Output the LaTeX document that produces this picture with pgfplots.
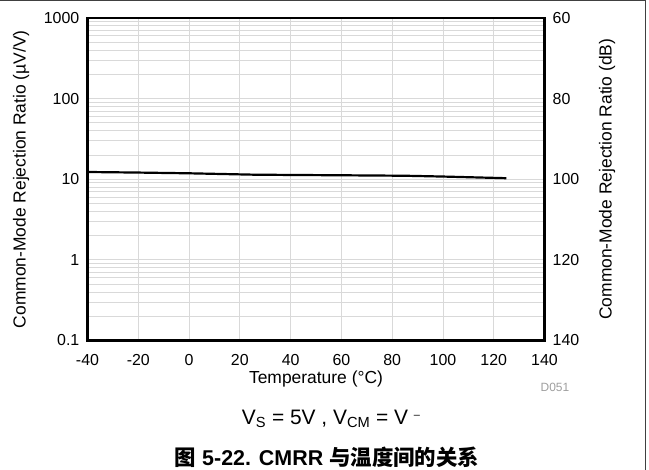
\documentclass[border=0pt]{standalone}
\usepackage{pgfplots}
\pgfplotsset{compat=1.18}
\usepackage{fontspec}
\setmainfont{Liberation Sans}
\newfontfamily\cjk{Noto Sans CJK SC}
\definecolor{gridgray}{RGB}{217,217,217}
\pgfplotstableread{
T    cmrr
-40  12.3
-20  12.1
0    11.85
25   11.4
40   11.3
60   11.2
85   11.05
100  10.8
125  10.3
}\cmrrdata
\begin{document}
\begin{tikzpicture}[x=1bp,y=1bp]
\useasboundingbox (0,0) rectangle (649,470);
\draw[line width=1.2bp, black!75] (0,469.4) -- (645.8,469.4) -- (645.8,0);
\begin{axis}[
  at={(87.5bp,129.5bp)}, anchor=south west,
  scale only axis, width=457bp, height=322.5bp,
  xmin=-40, xmax=140, ymode=log, ymin=0.1, ymax=1000,
  xtick={-40,-20,0,20,40,60,80,100,120,140},
  xticklabels={-40,-20,0,20,40,60,80,100,120,140},
  ytick={0.1,1,10,100,1000},
  yticklabels={0.1,1,10,100,1000},
  minor ytick={0.2,0.3,0.4,0.5,0.6,0.7,0.8,0.9,2,3,4,5,6,7,8,9,20,30,40,50,60,70,80,90,200,300,400,500,600,700,800,900},
  xtick pos=bottom, ytick pos=left,
  xmajorgrids, ymajorgrids, yminorgrids,
  major grid style={gridgray, line width=0.9bp},
  minor grid style={gridgray, line width=0.9bp},
  major tick length=0pt, minor tick length=0pt,
  tick style={draw=none},
  axis line style={line width=2.5bp},
  tick label style={font=\fontsize{16}{16}\selectfont, inner sep=0pt},
  xticklabel style={anchor=center, yshift=-19.5bp},
  yticklabel style={anchor=east, xshift=-8bp},
  label style={font=\fontsize{17.5}{17.5}\selectfont},
  xlabel={Temperature (°C)},
  xlabel style={at={(axis description cs:0.5,-0.1194)}, anchor=center},
  ylabel={Common-Mode Rejection Ratio (µV/V)},
  ylabel style={at={(axis description cs:-0.1455,0.5)}, anchor=center},
]
\addplot[black, line width=2.2bp] table[x=T, y=cmrr] {\cmrrdata};
\end{axis}
\begin{axis}[
  at={(87.5bp,129.5bp)}, anchor=south west,
  scale only axis, width=457bp, height=322.5bp,
  xmin=-40, xmax=140, ymode=log, ymin=0.1, ymax=1000,
  hide x axis,
  axis y line*=right,
  ytick={0.1,1,10,100,1000},
  yticklabels={140,120,100,80,60},
  minor ytick={},
  major tick length=0pt, minor tick length=0pt,
  tick style={draw=none},
  axis line style={line width=2.5bp},
  tick label style={font=\fontsize{16}{16}\selectfont, inner sep=0pt},
  yticklabel style={anchor=west, xshift=8bp},
  label style={font=\fontsize{17.5}{17.5}\selectfont},
  ylabel={Common-Mode Rejection Ratio (dB)},
  ylabel style={at={(axis description cs:1.1368,0.5)}, anchor=center},
]
\end{axis}
\node[text=black!38, font=\fontsize{12}{12}\selectfont] at (555,83) {D051};
\node[font=\fontsize{21}{21}\selectfont] at (331,51) {V\textsubscript{S} = 5V , V\textsubscript{CM} = V \raisebox{0.28em}{\fontsize{11}{11}\selectfont –}};
\node[font=\fontsize{21.5}{21.5}\selectfont\bfseries] at (327,13) {{\cjk 图} 5-22. CMRR {\cjk 与温度间的关系}};
\end{tikzpicture}
\end{document}
